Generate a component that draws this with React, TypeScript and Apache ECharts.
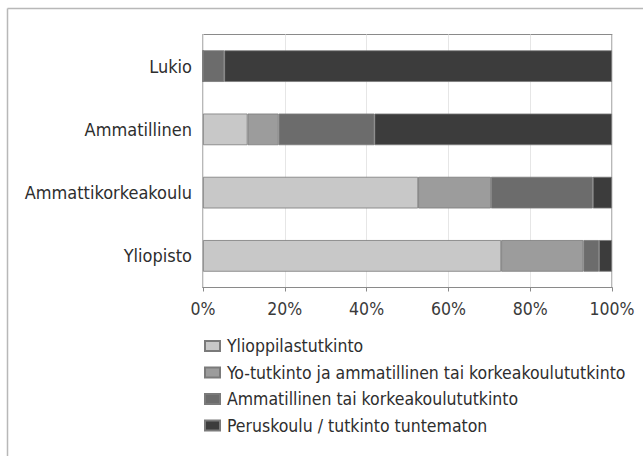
import React, { useEffect, useRef } from "react";
import * as echarts from "echarts";

const categories = ["Lukio", "Ammatillinen", "Ammattikorkeakoulu", "Yliopisto"];
const seriesNames = [
  "Ylioppilastutkinto",
  "Yo-tutkinto ja ammatillinen tai korkeakoulututkinto",
  "Ammatillinen tai korkeakoulututkinto",
  "Peruskoulu / tutkinto tuntematon",
];
const ylioppilas = [0, 10.9, 52.6, 72.9];
const yoJaAmm = [0, 7.6, 17.8, 20.1];
const ammTaiKork = [5.2, 23.4, 24.9, 3.8];
const peruskoulu = [94.8, 58.1, 4.7, 3.2];
const xTicks = [0, 20, 40, 60, 80, 100];
const colors = ["#c8c8c8", "#9c9c9c", "#6c6c6c", "#3c3c3c"];

const FONT = "'Liberation Sans Narrow', 'DejaVu Sans Condensed', 'Roboto Condensed', 'Liberation Sans', sans-serif";

export default function App() {
  const ref = useRef<HTMLDivElement>(null);
  useEffect(() => {
    if (!ref.current) return;
    const chart = echarts.init(ref.current, undefined, { renderer: "svg" });
    const values = [ylioppilas, yoJaAmm, ammTaiKork, peruskoulu];
    chart.setOption({
      animation: false,
      backgroundColor: "#ffffff",
      textStyle: { fontFamily: FONT },
      graphic: [
        { type: "line", shape: { x1: 7.5, y1: 8.5, x2: 643, y2: 8.5 }, style: { stroke: "#b8b8b8", lineWidth: 1.5 } },
        { type: "line", shape: { x1: 7.5, y1: 8.5, x2: 7.5, y2: 456 }, style: { stroke: "#b8b8b8", lineWidth: 1.5 } },
      ],
      grid: {
        left: 203,
        right: 31,
        top: 34.5,
        height: 253,
        show: true,
        borderColor: "#8a8a8a",
        borderWidth: 1.2,
        containLabel: false,
      },
      legend: {
        orient: "vertical",
        left: 199,
        top: 332,
        itemWidth: 15,
        itemHeight: 10,
        itemGap: 8.5,
        icon: "rect",
        data: seriesNames,
        textStyle: { fontFamily: FONT, fontSize: 17.5, color: "#2e2e2e", lineHeight: 18, padding: [0, 0, 0, 2] },
      },
      xAxis: {
        type: "value",
        min: 0,
        max: 100,
        interval: 20,
        axisLine: { show: true, lineStyle: { color: "#8a8a8a", width: 1.2 } },
        axisTick: { show: true, length: 4, lineStyle: { color: "#8a8a8a" } },
        splitLine: { show: true, lineStyle: { color: "#e6e6e6", width: 1 } },
        axisLabel: {
          formatter: (v: number) => (xTicks.includes(v) ? v + "%" : ""),
          fontFamily: FONT,
          fontSize: 17.5,
          color: "#3a3a3a",
          margin: 12,
        },
      },
      yAxis: {
        type: "category",
        data: categories,
        inverse: true,
        axisLine: { show: false },
        axisTick: { show: false },
        axisLabel: { fontFamily: FONT, fontSize: 18, color: "#2e2e2e", margin: 11 },
      },
      series: seriesNames.map((name, i) => ({
        name,
        type: "bar",
        stack: "total",
        barCategoryGap: "50%",
        data: values[i],
        itemStyle: { color: colors[i], borderColor: "#7a7a7a", borderWidth: 0.8 },
      })),
    });
    return () => chart.dispose();
  }, []);
  return <div ref={ref} style={{ width: 643, height: 456, position: "absolute", left: 0, top: 0 }} />;
}
